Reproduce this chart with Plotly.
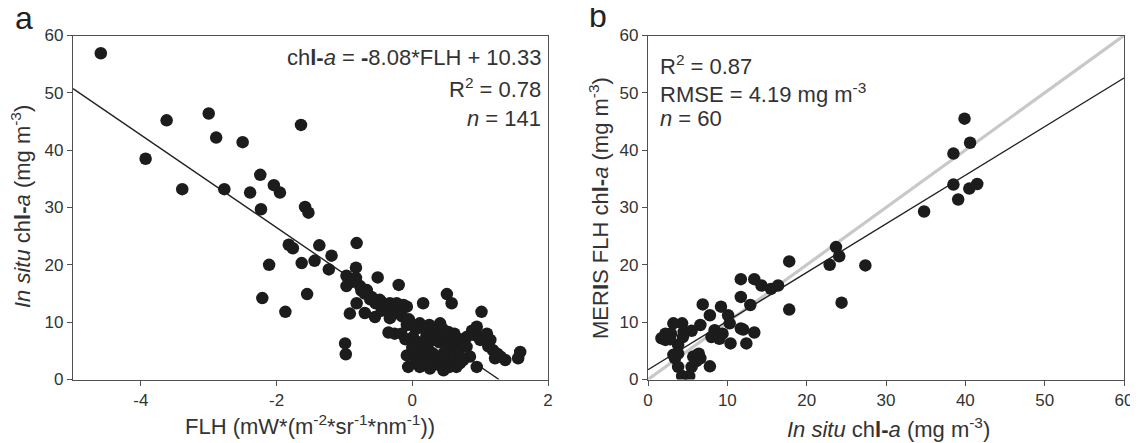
import numpy as np
import plotly.graph_objects as go

# panel a: FLH vs in situ chl-a
flh = [-4.59, -3.93, -3.62, -3.39, -3.00, -2.89, -2.77, -2.50, -2.39, -2.24,
       -2.04, -1.95, -1.64, -2.23, -1.58, -1.53, -1.82, -1.76, -1.37, -0.82,
       -2.11, -1.63, -1.44, -1.19, -1.23, -0.83, -0.97, -0.97, -0.83, -0.77,
       -0.51, -0.20, -2.21, -1.55, -1.87, -0.82, 0.16, -0.67, -0.60, -0.48,
       -0.33, -0.23, -0.08, -0.92, -0.70, -0.55, -0.99, -0.98, 0.51, 0.58,
       1.02, -0.13, -0.54, -0.33, -0.08, 0.11, -0.26, -0.16, 0.41, 0.53,
       0.01, 0.21, 0.36, 0.95, 0.80, 1.10, 1.00, 0.65, 0.56, 0.11,
       0.24, 0.46, 0.68, -0.08, 1.19, 1.22, 1.37, 1.59, 1.56, 0.95,
       -0.06, 0.11, 0.26, 0.46, 0.65, 0.75, 0.36, 0.16, 0.56, 0.06,
       0.60, 0.80, 0.85, 1.15, 1.25, -0.90, -0.75, -0.70, -0.62, -0.45,
       -0.40, -0.28, -0.20, -0.15, -0.05, 0.00, 0.05, 0.15, 0.25, 0.30,
       0.45, 0.20, 0.28, 0.40, 0.50, 0.70, 0.75, 0.30, 0.10, 0.00,
       0.20, 0.40, 0.55, 0.70, 0.30, 0.90, 1.05, 1.12, 0.88, 0.62,
       -0.35, -0.10, 0.05, 0.50, 0.60, 0.72, 1.30, -0.45, 0.25, 0.45,
       0.15]
chl_a = [56.9, 38.5, 45.2, 33.2, 46.4, 42.2, 33.2, 41.4, 32.6, 35.7,
         33.9, 32.6, 44.4, 29.7, 30.1, 29.1, 23.5, 22.9, 23.4, 23.8,
         20.0, 20.3, 20.7, 21.6, 19.2, 19.5, 18.1, 16.3, 17.7, 16.3,
         17.8, 16.5, 14.2, 14.9, 11.8, 13.3, 13.3, 15.6, 14.4, 13.9,
         13.3, 13.3, 12.7, 11.5, 11.6, 10.9, 6.3, 4.4, 14.9, 13.3,
         11.8, 13.0, 13.3, 10.7, 9.5, 9.8, 8.0, 8.0, 9.8, 8.3,
         7.4, 7.7, 7.4, 9.2, 7.4, 8.0, 6.9, 6.3, 5.7, 5.4,
         5.1, 4.5, 4.5, 4.2, 5.1, 3.7, 3.4, 4.8, 3.7, 2.2,
         2.2, 2.2, 1.9, 1.6, 2.2, 3.4, 3.4, 3.4, 3.1, 4.2,
         4.0, 5.7, 4.0, 6.9, 4.5, 17.0, 15.5, 15.0, 14.0, 13.5,
         12.5, 12.0, 11.5, 11.0, 10.5, 9.5, 8.8, 9.0, 9.5, 8.5,
         8.8, 6.5, 6.8, 6.5, 7.0, 7.0, 6.0, 4.6, 6.5, 5.5,
         4.3, 2.5, 2.2, 2.8, 2.6, 7.8, 7.5, 5.8, 8.5, 8.0,
         8.2, 7.0, 3.0, 5.2, 5.0, 3.8, 4.0, 12.0, 3.0, 3.8,
         2.8]
fit_a = (-8.08, 10.33)

# panel b: in situ vs MERIS FLH chl-a
insitu = [39.9, 40.6, 38.5, 38.5, 39.1, 40.5, 41.5, 34.8, 23.7, 24.1,
          22.9, 27.4, 24.4, 17.8, 17.8, 11.7, 13.4, 14.3, 15.5, 16.4,
          11.7, 12.9, 11.7, 13.4, 12.4, 10.4, 10.1, 10.3, 9.2, 8.4,
          9.4, 9.0, 7.8, 6.9, 8.0, 7.8, 6.6, 5.5, 4.5, 4.3,
          3.2, 2.2, 2.2, 3.8, 3.8, 3.4, 3.8, 4.3, 5.2, 5.5,
          5.7, 6.4, 6.6, 2.9, 4.4, 3.2, 6.1, 2.8, 12.0, 1.7]
meris = [45.5, 41.3, 39.4, 34.0, 31.4, 33.3, 34.1, 29.3, 23.1, 21.5,
         20.0, 19.9, 13.4, 20.6, 12.2, 17.5, 17.5, 16.4, 15.8, 16.4,
         14.4, 13.0, 8.9, 8.2, 6.3, 6.3, 11.2, 9.8, 12.7, 8.6,
         8.0, 7.1, 11.2, 13.1, 7.4, 2.3, 9.5, 8.5, 8.3, 9.8,
         9.8, 8.0, 6.9, 6.0, 4.5, 3.7, 2.2, 0.6, 0.6, 2.2,
         4.0, 4.5, 3.7, 8.0, 7.4, 4.3, 3.2, 7.0, 8.7, 7.2]
fit_b = (0.848, 1.7)

a_xticks = [-4, -2, 0, 2]
a_xlabels = ["-4", "-2", "0", "2"]

# the page body has an 8px margin, so the figure is drawn 8px in from the corner
OFF = 8
W, H = 1138 - OFF, 443 - OFF
FONT = "Liberation Sans, Arial, sans-serif"
DOT = "#1c1c1c"
AX = "#505050"


def px(x):
    return (x - OFF) / W


def py(y):
    return 1 - (y - OFF) / H


fig = go.Figure()

# regression line a, from left edge to where it hits zero
xa = np.linspace(-5, -fit_a[1] / fit_a[0], 50)
fig.add_trace(go.Scatter(x=xa, y=fit_a[0] * xa + fit_a[1], mode="lines",
                         line=dict(color="#222222", width=1.4),
                         xaxis="x", yaxis="y", hoverinfo="skip"))
fig.add_trace(go.Scatter(x=flh, y=chl_a, mode="markers",
                         marker=dict(size=12.5, color=DOT),
                         xaxis="x", yaxis="y"))

xb = np.linspace(0, 60, 50)
fig.add_trace(go.Scatter(x=xb, y=xb, mode="lines",
                         line=dict(color="#c8c8c8", width=3.2),
                         xaxis="x2", yaxis="y2", hoverinfo="skip"))
fig.add_trace(go.Scatter(x=xb, y=fit_b[0] * xb + fit_b[1], mode="lines",
                         line=dict(color="#222222", width=1.4),
                         xaxis="x2", yaxis="y2", hoverinfo="skip"))
fig.add_trace(go.Scatter(x=insitu, y=meris, mode="markers",
                         marker=dict(size=12.5, color=DOT),
                         xaxis="x2", yaxis="y2"))

axis_style = dict(showline=True, mirror=True, linecolor=AX, linewidth=1.4,
                  ticks="outside", ticklen=5, tickcolor=AX, tickwidth=1.2,
                  showgrid=False, zeroline=False, automargin=False,
                  tickfont=dict(family=FONT, size=17, color="#333333"))

ydom = [py(379.5), py(35.5)]
fig.update_layout(
    width=W, height=H,
    margin=dict(l=0, r=0, t=0, b=0),
    paper_bgcolor="white", plot_bgcolor="white",
    showlegend=False,
    xaxis=dict(domain=[px(73), px(548)], range=[-5, 2],
               tickvals=a_xticks, ticktext=a_xlabels, anchor="y", **axis_style),
    yaxis=dict(domain=ydom, range=[0, 60], dtick=10, anchor="x", **axis_style),
    xaxis2=dict(domain=[px(648), px(1124)], range=[0, 60], dtick=10,
                anchor="y2", **axis_style),
    yaxis2=dict(domain=ydom, range=[0, 60], dtick=10, anchor="x2", **axis_style),
)

txt = dict(family=FONT, size=22, color="#333333")
notes = [
    # panel letters
    dict(x=px(24), y=py(18), text="a", font=dict(family=FONT, size=32, color="#222222")),
    dict(x=px(598), y=py(16), text="b", font=dict(family=FONT, size=32, color="#222222")),
    # panel a statistics
    dict(x=px(543), y=py(57), xanchor="right",
         text="ch<b>l-</b><i>a</i> = <b>-</b>8.08*FLH + 10.33", font=txt),
    dict(x=px(543), y=py(88), xanchor="right", text="R<sup>2</sup> = 0.78", font=txt),
    dict(x=px(543), y=py(118), xanchor="right", text="<i>n</i> = 141", font=txt),
    # panel b statistics
    dict(x=px(658), y=py(65), xanchor="left", text="R<sup>2</sup> = 0.87", font=txt),
    dict(x=px(658), y=py(93), xanchor="left",
         text="RMSE = 4.19 mg m<sup>-3</sup>", font=txt),
    dict(x=px(658), y=py(118), xanchor="left", text="<i>n</i> = 60", font=txt),
    # axis titles
    dict(x=px(310), y=py(425), text="FLH (mW*(m<sup>-2</sup>*sr<sup>-1</sup>*nm<sup>-1</sup>))",
         font=txt),
    dict(x=px(888), y=py(428), text="<i>In situ</i> ch<b>l-</b><i>a</i> (mg m<sup>-3</sup>)",
         font=txt),
    dict(x=px(21), y=py(207), textangle=-90,
         text="<i>In situ</i> ch<b>l-</b><i>a</i> (mg m<sup>-3</sup>)", font=txt),
    dict(x=px(599), y=py(208), textangle=-90,
         text="MER<b>I</b>S FLH ch<b>l-</b><i>a</i> (mg m<sup>-3</sup>)", font=txt),
]
for n in notes:
    n.setdefault("xanchor", "center")
    fig.add_annotation(xref="paper", yref="paper", yanchor="middle",
                       showarrow=False, **n)

fig.write_html("out.html")
